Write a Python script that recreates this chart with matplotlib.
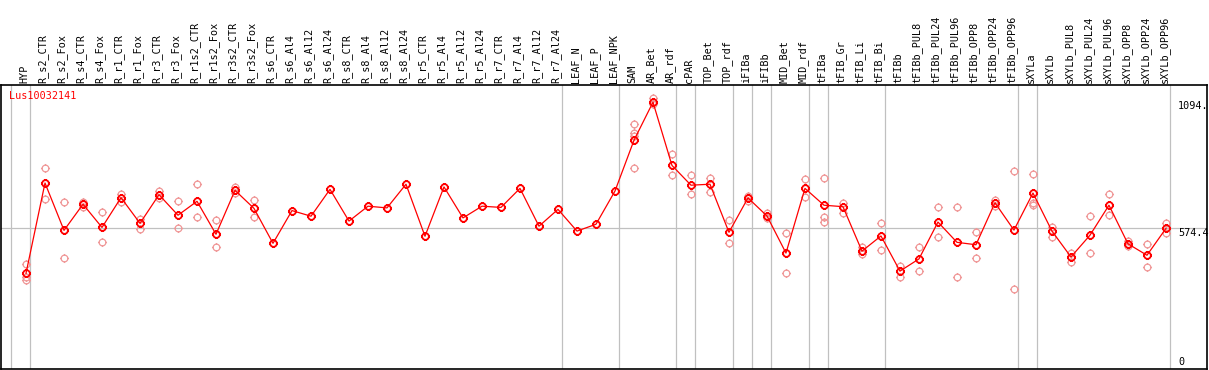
import matplotlib
matplotlib.use("Agg")
import matplotlib.pyplot as plt
import matplotlib.transforms as mtransforms
from matplotlib.path import Path
import numpy as np

GENE = "Lus10032141"

SAMPLES = [
    "HYP", "R_s2_CTR", "R_s2_Fox", "R_s4_CTR", "R_s4_Fox", "R_r1_CTR", "R_r1_Fox",
    "R_r3_CTR", "R_r3_Fox", "R_r1s2_CTR", "R_r1s2_Fox", "R_r3s2_CTR", "R_r3s2_Fox",
    "R_s6_CTR", "R_s6_Al4", "R_s6_Al12", "R_s6_Al24", "R_s8_CTR", "R_s8_Al4",
    "R_s8_Al12", "R_s8_Al24", "R_r5_CTR", "R_r5_Al4", "R_r5_Al12", "R_r5_Al24",
    "R_r7_CTR", "R_r7_Al4", "R_r7_Al12", "R_r7_Al24", "LEAF_N", "LEAF_P", "LEAF_NPK",
    "SAM", "AR_Bet", "AR_rdf", "cPAR", "TOP_Bet", "TOP_rdf", "iFIBa", "iFIBb",
    "MID_Bet", "MID_rdf", "tFIBa", "tFIB_Gr", "tFIB_Li", "tFIB_Bi", "tFIBb",
    "tFIBb_PUL8", "tFIBb_PUL24", "tFIBb_PUL96", "tFIBb_OPP8", "tFIBb_OPP24",
    "tFIBb_OPP96", "sXYLa", "sXYLb", "sXYLb_PUL8", "sXYLb_PUL24", "sXYLb_PUL96",
    "sXYLb_OPP8", "sXYLb_OPP24", "sXYLb_OPP96",
]

MEANS = [
    390, 760, 566, 673, 578, 700, 595, 712, 628, 685, 550, 730, 656,
    513, 647, 624, 734, 604, 665, 658, 755, 542, 744, 617, 665,
    660, 738, 583, 652, 563, 591, 727,
    935, 1091, 832, 751, 755, 558, 699, 625,
    473, 738, 669, 663, 481, 543, 399,
    449, 600, 517, 507, 679, 567,
    719, 563, 457, 546, 669, 511, 464, 574,
]

REPLICATES = [
    [428, 375, 363], [820, 693], [681, 451], [681, 663], [640, 517], [715, 683],
    [614, 573], [727, 700], [685, 574], [755, 619], [607, 497], [745, 718], [690, 622],
    [], [], [], [], [], [], [], [], [], [], [], [],
    [], [], [], [], [], [], [],
    [1000, 966, 952, 820], [1109, 1084], [878, 792], [792, 714], [780, 724],
    [607, 513], [708, 687], [636, 615],
    [554, 390], [775, 701], [779, 622, 599], [679, 636], [497, 468], [595, 484],
    [421, 374],
    [498, 399], [660, 538], [660, 374], [558, 451], [690, 666], [808, 324],
    [796, 677, 670], [581, 540], [474, 438], [624, 473], [714, 628], [521, 502],
    [510, 415], [595, 554],
]

# group separators drawn just right of these sample indices
SEPARATORS = [-1, 0, 28, 31, 34, 35, 37, 38, 39, 41, 42, 45, 52, 53, 60]
Y_LABELS = [1094, 574.4, 0]
Y_LABEL_TEXT = ["1094.", "574.4", "0"]
REF_LEVEL = 574.4

# circle marker with four small ticks, like the source plot
circ = Path.unit_circle()
verts = list(circ.vertices)
codes = list(circ.codes)
for dx, dy in [(0, 1), (0, -1), (1, 0), (-1, 0)]:
    verts += [(dx * 1.0, dy * 1.0), (dx * 1.35, dy * 1.35)]
    codes += [Path.MOVETO, Path.LINETO]
tick_circle = Path(verts, codes)

mono = "DejaVu Sans Mono"
fig = plt.figure(figsize=(12.09, 3.70), dpi=100)
ax = fig.add_axes([1 / 1209, 1 / 370, 1206 / 1209, 284 / 370])

x = np.arange(len(SAMPLES))
ax.set_xlim(-1.316, 62.16)
ax.set_ylim(-2, 1161.5)

ax.axhline(REF_LEVEL, color="#c0c0c0", lw=0.9, zorder=1)
for s in SEPARATORS:
    ax.axvline(s + 0.23, color="#c0c0c0", lw=0.9, zorder=1)

for i, reps in enumerate(REPLICATES):
    if reps:
        ax.plot([i] * len(reps), reps, linestyle="none", marker=tick_circle,
                markersize=6.5, markerfacecolor="none", markeredgecolor="#f09898",
                markeredgewidth=0.9, zorder=2)

ax.plot(x, MEANS, color="red", lw=0.9, zorder=3)
ax.plot(x, MEANS, linestyle="none", marker=tick_circle, markersize=6.5,
        markerfacecolor="none", markeredgecolor="red", markeredgewidth=1.3, zorder=4)

ax.set_xticks([])
ax.set_yticks([])
for sp in ax.spines.values():
    sp.set_linewidth(1.2)
    sp.set_color("black")

trans = mtransforms.blended_transform_factory(ax.transData, ax.transAxes)
for i, name in enumerate(SAMPLES):
    ax.text(i - 0.1, 1.006, name, rotation=90, ha="center", va="bottom",
            family=mono, fontsize=7.3, transform=trans, clip_on=False)

ax.text(0.0065, 0.96, GENE, color="red", family=mono, fontsize=7.3,
        ha="left", va="center", transform=ax.transAxes)

for val, txt in zip(Y_LABELS, Y_LABEL_TEXT):
    ax.text(60.63, val if val > 0 else 6, txt, family=mono, fontsize=7.3,
            ha="left", va="top" if val > 0 else "bottom")

fig.savefig("out.png", dpi=100)
